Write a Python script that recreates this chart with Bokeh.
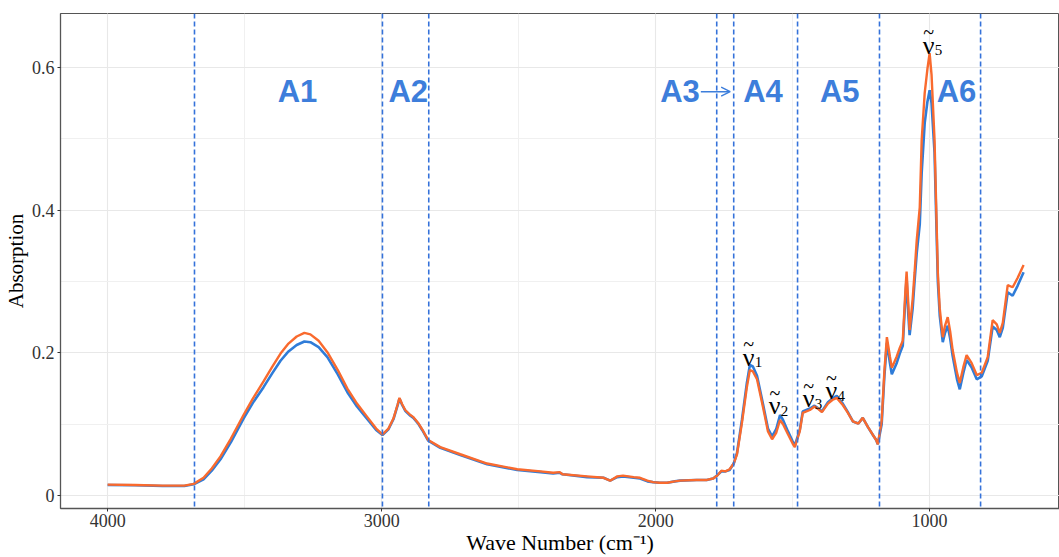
from bokeh.plotting import figure
from bokeh.models import Range1d, SingleIntervalTicker, Span, Arrow, OpenHead, ColumnDataSource
from bokeh.core.properties import value
from bokeh.embed import file_html
from bokeh.resources import INLINE

wavenumber = [4000, 3900, 3800, 3720, 3686, 3650, 3620, 3588, 3550, 3504, 3470, 3431, 3400, 3369,
              3340, 3310, 3282, 3260, 3230, 3198, 3160, 3125, 3090, 3052, 3020, 2997, 2975, 2957,
              2942, 2935, 2925, 2914, 2895, 2884, 2865, 2852, 2830, 2786, 2713, 2615, 2505, 2420,
              2374, 2350, 2340, 2250, 2190, 2166, 2140, 2119, 2080, 2057, 2030, 2010, 1985, 1958,
              1930, 1911, 1850, 1813, 1790, 1776, 1760, 1745, 1730, 1715, 1703, 1685, 1667, 1656,
              1645, 1630, 1608, 1590, 1575, 1560, 1546, 1535, 1517, 1500, 1492, 1474, 1463, 1437,
              1420, 1405, 1393, 1371, 1355, 1339, 1317, 1300, 1280, 1260, 1244, 1225, 1207, 1195,
              1189, 1175, 1165, 1156, 1145, 1138, 1120, 1109, 1098, 1088, 1084, 1078, 1073, 1062,
              1055, 1047, 1036, 1029, 1018, 1008, 1000, 993, 982, 970, 963, 952, 944, 934, 925,
              916, 900, 890, 877, 865, 847, 828, 810, 788, 770, 755, 744, 733, 715, 697, 679, 657]

sample_orange = [0.0155, 0.0150, 0.0140, 0.0140, 0.0165, 0.025, 0.038, 0.055, 0.080, 0.113, 0.136, 0.160, 0.180, 0.199,
                 0.213, 0.223, 0.228, 0.226, 0.217, 0.201, 0.176, 0.150, 0.129, 0.110, 0.094, 0.086, 0.094, 0.108,
                 0.127, 0.137, 0.128, 0.120, 0.113, 0.110, 0.101, 0.093, 0.078, 0.068, 0.058, 0.045, 0.037, 0.034,
                 0.032, 0.033, 0.030, 0.027, 0.025, 0.021, 0.027, 0.028, 0.026, 0.025, 0.021, 0.019, 0.018, 0.018,
                 0.020, 0.021, 0.022, 0.022, 0.024, 0.028, 0.035, 0.034, 0.037, 0.045, 0.058, 0.102, 0.152, 0.176,
                 0.174, 0.163, 0.124, 0.090, 0.079, 0.088, 0.106, 0.100, 0.086, 0.073, 0.068, 0.090, 0.116, 0.120,
                 0.125, 0.121, 0.117, 0.129, 0.134, 0.137, 0.127, 0.117, 0.104, 0.101, 0.109, 0.096, 0.085, 0.078,
                 0.072, 0.105, 0.175, 0.222, 0.195, 0.179, 0.195, 0.207, 0.217, 0.290, 0.314, 0.270, 0.232, 0.275,
                 0.312, 0.358, 0.404, 0.498, 0.564, 0.598, 0.620, 0.590, 0.498, 0.312, 0.262, 0.222, 0.238, 0.250, 0.230,
                 0.204, 0.172, 0.158, 0.180, 0.197, 0.186, 0.169, 0.172, 0.194, 0.246, 0.240, 0.228, 0.242, 0.295, 0.292, 0.305, 0.323]

sample_blue = [0.0150, 0.0145, 0.0135, 0.0135, 0.0160, 0.023, 0.035, 0.051, 0.075, 0.108, 0.130, 0.152, 0.171, 0.189,
               0.202, 0.211, 0.216, 0.215, 0.208, 0.194, 0.170, 0.145, 0.125, 0.107, 0.092, 0.085, 0.093, 0.107,
               0.126, 0.136, 0.127, 0.119, 0.112, 0.109, 0.100, 0.092, 0.077, 0.067, 0.057, 0.044, 0.036, 0.033,
               0.031, 0.032, 0.030, 0.026, 0.025, 0.021, 0.026, 0.027, 0.025, 0.024, 0.020, 0.019, 0.018, 0.018,
               0.020, 0.021, 0.022, 0.022, 0.024, 0.028, 0.034, 0.034, 0.036, 0.045, 0.060, 0.106, 0.158, 0.183,
               0.181, 0.168, 0.128, 0.094, 0.083, 0.093, 0.113, 0.106, 0.090, 0.076, 0.070, 0.092, 0.118, 0.122,
               0.126, 0.122, 0.118, 0.131, 0.136, 0.140, 0.129, 0.118, 0.104, 0.101, 0.109, 0.096, 0.085, 0.078,
               0.072, 0.100, 0.168, 0.214, 0.186, 0.170, 0.186, 0.199, 0.210, 0.280, 0.305, 0.255, 0.225, 0.262,
               0.300, 0.340, 0.380, 0.452, 0.522, 0.552, 0.568, 0.550, 0.480, 0.300, 0.252, 0.215, 0.228, 0.238, 0.220,
               0.196, 0.163, 0.149, 0.172, 0.190, 0.180, 0.163, 0.167, 0.189, 0.237, 0.232, 0.222, 0.235, 0.285, 0.280, 0.294, 0.313]

region_bounds = [3683, 2997, 2828, 1777, 1715, 1482, 1183, 814]
region_names = ["A1", "A2", "A3", "A4", "A5", "A6"]
region_label_x = [3307, 2903, 1911, 1608, 1328, 902]
region_label_y = 0.566

peak_names = ["1", "2", "3", "4", "5"]
peak_x = [1682, 1587, 1463, 1380, 1025]
peak_y = [0.194, 0.126, 0.136, 0.147, 0.631]

BLUE = "#2F7CD8"
ORANGE = "#F96A2E"
DASH = "#3572DA"
LABEL = "#3D7EDB"

p = figure(width=1059, height=557, output_backend="svg", toolbar_location=None,
           x_range=Range1d(4172, 526), y_range=Range1d(-0.018, 0.6755),
           min_border_left=60, min_border_right=0, min_border_top=13, min_border_bottom=48)

p.background_fill_color = "white"
p.outline_line_color = "#555555"
p.outline_line_width = 1

p.xaxis.ticker = SingleIntervalTicker(interval=1000, num_minor_ticks=2)
p.yaxis.ticker = SingleIntervalTicker(interval=0.2, num_minor_ticks=2)

for ax in (p.xaxis, p.yaxis):
    ax.axis_line_color = "#555555"
    ax.axis_line_width = 1.3
    ax.major_tick_line_color = "#333333"
    ax.major_tick_out = 3
    ax.major_tick_in = 0
    ax.minor_tick_line_color = None
    ax.major_label_text_font = "Liberation Serif"
    ax.major_label_text_font_size = "18px"
    ax.major_label_text_color = "#333333"
    ax.axis_label_text_font = "Liberation Serif"
    ax.axis_label_text_font_style = "normal"
    ax.axis_label_text_color = "black"

p.xaxis.major_label_standoff = 1
p.yaxis.major_label_standoff = 2
p.xaxis.axis_label_text_font_size = "22px"
p.yaxis.axis_label_text_font_size = "21px"
p.xaxis.axis_label_standoff = 0
p.yaxis.axis_label_standoff = 1
p.xaxis.axis_label = "Wave Number (cm\u207b\u00b9)"
p.yaxis.axis_label = "Absorption"

p.grid.grid_line_color = "#E8E8E8"
p.grid.grid_line_width = 1.1
p.grid.minor_grid_line_color = "#F0F0F0"
p.grid.minor_grid_line_width = 1

for b in region_bounds:
    p.add_layout(Span(location=b, dimension="height", line_color=DASH, line_width=1.6, line_dash="5 3"))

p.line(wavenumber, sample_blue, line_color=BLUE, line_width=2.6)
p.line(wavenumber, sample_orange, line_color=ORANGE, line_width=2.4)

src = ColumnDataSource(dict(x=region_label_x, y=[region_label_y] * len(region_names), t=region_names))
p.text("x", "y", text="t", source=src, text_font=value("Liberation Sans"), text_font_style="bold",
       text_font_size="31px", text_color=LABEL, text_align="center", text_baseline="middle")

p.add_layout(Arrow(end=OpenHead(size=9, line_color=LABEL, line_width=1.5),
                   x_start=1835, y_start=region_label_y, x_end=1728, y_end=region_label_y,
                   line_color=LABEL, line_width=1.5))

psrc = ColumnDataSource(dict(x=peak_x, y=peak_y, nu=["\u03bd"] * 5, tl=["~"] * 5, s=peak_names))
p.text("x", "y", text="nu", source=psrc, text_font=value("Liberation Serif"), text_font_size="26px",
       text_color="black", text_align="left", text_baseline="alphabetic")
p.text("x", "y", text="tl", source=psrc, text_font=value("Liberation Serif"), text_font_size="20px",
       text_color="black", text_align="center", text_baseline="alphabetic", x_offset=6, y_offset=-13)
p.text("x", "y", text="s", source=psrc, text_font=value("Liberation Serif"), text_font_size="15px",
       text_color="black", text_align="left", text_baseline="alphabetic", x_offset=12, y_offset=5)

open("out.html", "w").write(file_html(p, INLINE))
